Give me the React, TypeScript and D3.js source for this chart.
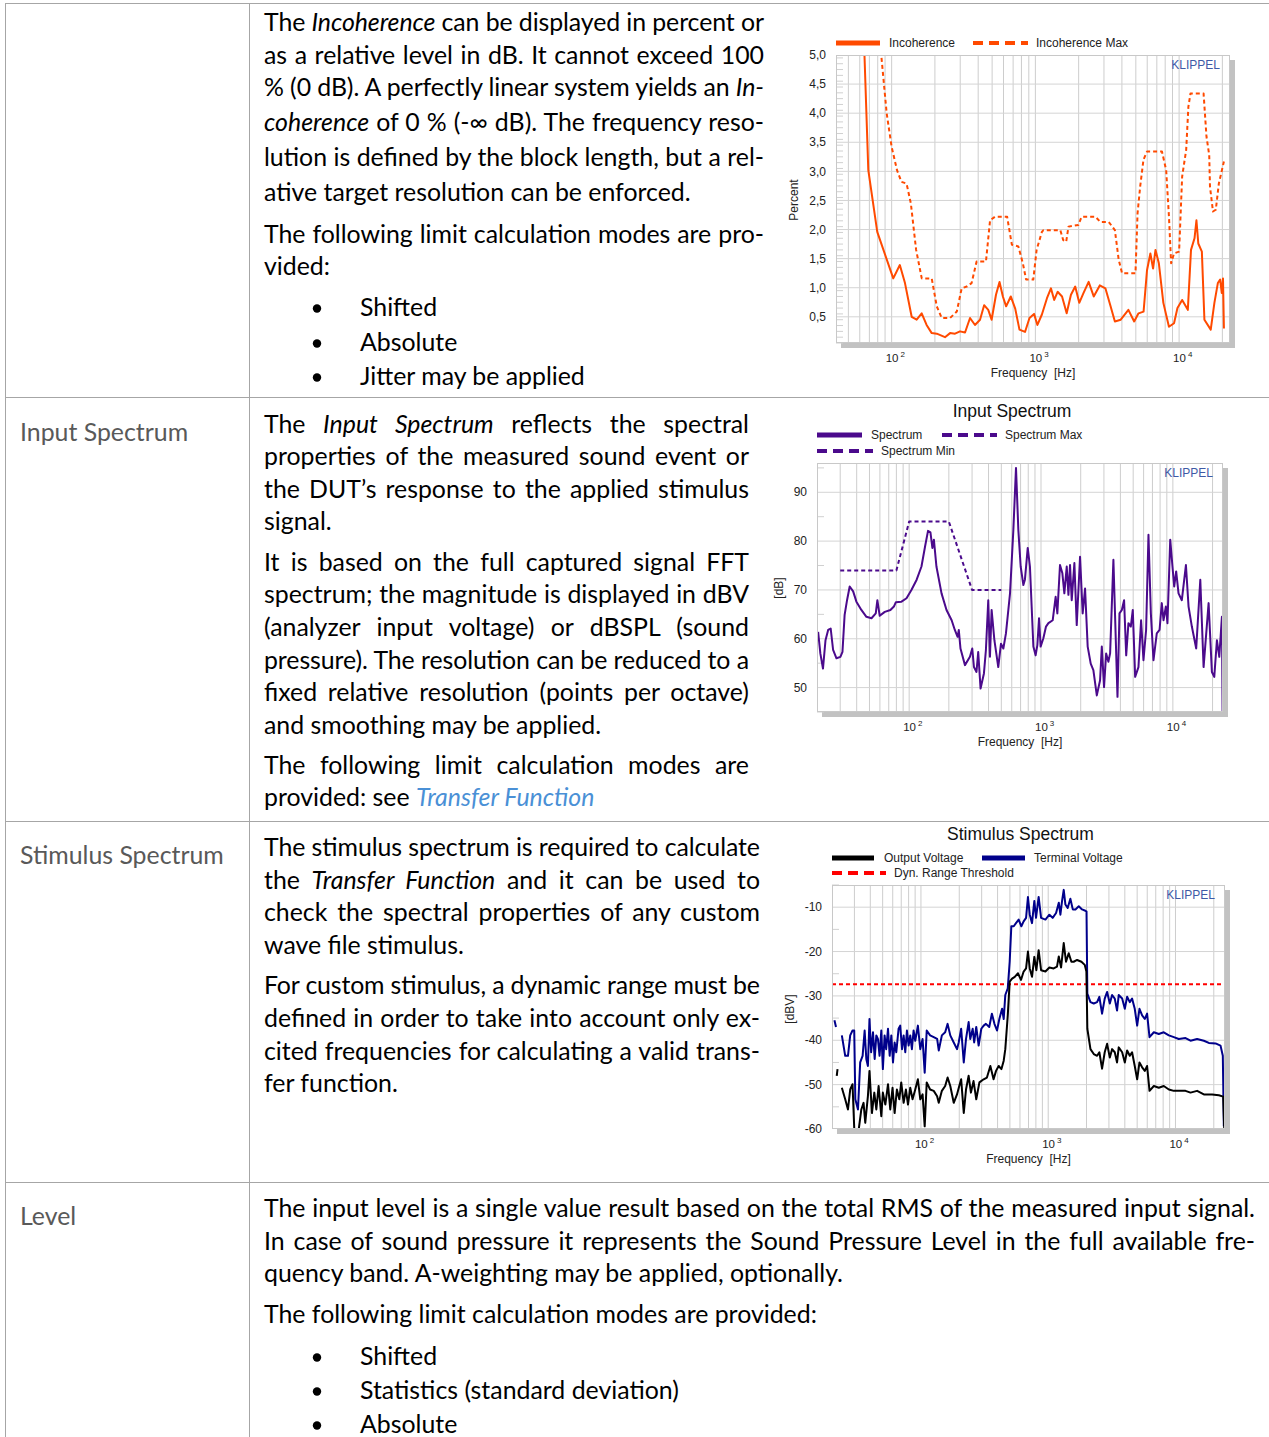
import React, { useEffect, useRef } from 'react';
import * as d3 from 'd3';

// ---- chart data (frequency in Hz, value) ----
const incoherence: [number, number][] = [
  [63.5, 5.6], [68.8, 3.02], [79.4, 1.96], [102.6, 1.16], [114, 1.39], [123.8, 1.08], [137.8, 0.5], [149.3, 0.45],
  [161.8, 0.56], [175, 0.36], [190, 0.22], [206, 0.21], [235, 0.15], [255, 0.22], [276, 0.21], [299, 0.25],
  [324, 0.23], [351, 0.48], [380, 0.36], [412, 0.45], [440, 0.7], [470, 0.62], [496, 0.45], [532, 0.88],
  [563, 1.1], [594, 0.85], [626, 0.68], [674, 0.85], [724, 0.64], [775, 0.28], [847, 0.24], [910, 0.48],
  [979, 0.55], [1033, 0.36], [1110, 0.54], [1204, 0.82], [1283, 0.99], [1352, 0.79], [1428, 0.93], [1533, 0.85],
  [1651, 0.56], [1768, 0.88], [1893, 1.02], [2020, 0.74], [2164, 0.91], [2347, 1.1], [2547, 0.85], [2806, 1.04],
  [3070, 0.99], [3336, 0.68], [3574, 0.42], [3925, 0.45], [4438, 0.62], [4868, 0.42], [5219, 0.56], [5660, 0.59],
  [5980, 1.3], [6310, 1.59], [6590, 1.33], [6850, 1.65], [7230, 1.42], [7770, 0.74], [8500, 0.33], [9220, 0.39],
  [9740, 0.65], [10500, 0.79], [11500, 0.62], [12100, 1.65], [12800, 1.85], [13200, 2.16], [13600, 1.76],
  [14400, 1.62], [15000, 0.45], [16600, 0.28], [17600, 0.74], [18600, 1.08], [19300, 1.14], [19800, 0.91],
  [20200, 1.16], [20500, 0.3],
];
const incoherenceMax: [number, number][] = [
  [85, 4.95], [92.3, 4.0], [100, 3.42], [109, 3.02], [117, 2.82], [127, 2.79], [136, 2.45], [148, 1.65],
  [162, 1.16], [190, 1.16], [206, 0.68], [223, 0.48], [255, 0.48], [284, 0.59], [307, 0.99], [333, 1.02],
  [360, 1.08], [390, 1.45], [453, 1.45], [484, 2.16], [524, 2.22], [636, 2.22], [686, 1.74], [761, 1.71],
  [818, 1.42], [862, 1.14], [967, 1.14], [1020, 1.65], [1110, 1.96], [1138, 1.99], [1491, 1.99], [1561, 1.82],
  [1638, 1.79], [1700, 2.05], [1992, 2.08], [2095, 2.22], [2620, 2.22], [2830, 2.13], [3240, 2.13], [3574, 1.99],
  [3800, 1.48], [4010, 1.25], [4970, 1.25], [5140, 2.28], [5360, 2.74], [5650, 3.2], [5980, 3.34], [7600, 3.34],
  [8130, 3.02], [8500, 2.22], [8800, 1.42], [9220, 1.59], [10000, 1.62], [10500, 2.91], [11200, 3.37],
  [11600, 4.11], [12000, 4.34], [14800, 4.34], [15500, 3.6], [16200, 3.28], [16400, 2.74], [17200, 2.31],
  [18000, 2.34], [18900, 2.79], [20500, 3.17],
];

const spectrum: [number, number][] = [
  [20.4, 61.4], [21.2, 57.0], [22.2, 53.9], [23.2, 59.7], [24.3, 61.8], [25.4, 62.1], [26.5, 57.7], [28.1, 56.0],
  [30.1, 56.3], [31.2, 57.3], [32.4, 64.9], [33.8, 67.9], [35.4, 70.7], [37.6, 69.7], [39.8, 67.6], [43.4, 65.9],
  [47.4, 64.5], [51.8, 64.2], [55.8, 65.2], [57.4, 67.9], [59.8, 64.7], [65.3, 65.5], [72.1, 65.9], [76.6, 66.6],
  [79.3, 67.5], [87.5, 67.6], [95.5, 68.3], [104, 70.0], [114, 72.1], [124, 74.8], [132, 78.9], [139, 82.1],
  [145, 81.8], [150, 78.6], [154, 80.3], [161, 74.8], [176, 69.3], [192, 65.9], [210, 63.8], [222, 61.8],
  [233, 60.4], [238, 61.8], [245, 58.0], [265, 54.6], [289, 56.3], [301, 58.0], [310, 54.2], [324, 53.2],
  [334, 57.3], [348, 49.8], [369, 52.9], [382, 57.7], [398, 67.9], [410, 56.3], [422, 65.9], [443, 59.7],
  [474, 54.2], [497, 59.0], [518, 58.0], [542, 61.1], [582, 69.3], [617, 82.3], [646, 95.0], [673, 82.3],
  [701, 74.8], [735, 71.0], [755, 72.1], [793, 78.6], [824, 74.8], [875, 58.4], [910, 56.6], [938, 58.7],
  [966, 64.2], [993, 58.4], [1042, 60.1], [1091, 62.5], [1138, 63.2], [1227, 63.8], [1291, 68.6], [1330, 65.2],
  [1393, 75.1], [1452, 73.4], [1503, 69.3], [1567, 74.8], [1614, 69.0], [1660, 75.1], [1710, 67.9], [1791, 75.5],
  [1866, 62.8], [1977, 76.8], [2070, 65.2], [2158, 70.3], [2259, 58.4], [2382, 54.9], [2495, 53.6], [2649, 48.4],
  [2805, 51.5], [2891, 58.4], [3006, 50.1], [3119, 57.0], [3243, 55.3], [3342, 57.0], [3540, 76.2], [3802, 48.1],
  [3936, 65.2], [4102, 65.9], [4266, 67.9], [4426, 56.6], [4603, 63.2], [4797, 62.5], [4966, 65.9], [5176, 52.2],
  [5483, 54.2], [5741, 63.8], [5984, 55.6], [6266, 61.8], [6531, 81.3], [6808, 65.2], [7129, 55.6], [7551, 61.1],
  [7925, 61.8], [8241, 67.3], [8492, 63.8], [8851, 66.6], [9099, 63.2], [9550, 80.3], [9931, 74.8], [10233, 70.7],
  [10593, 73.8], [11041, 69.3], [11695, 67.9], [12560, 75.1], [13152, 66.6], [13932, 62.5], [15031, 58.0],
  [16144, 72.1], [17100, 54.2], [18664, 67.3], [19770, 53.2], [20606, 52.2], [21577, 59.7], [22491, 56.3],
  [23550, 64.5], [23823, 45.0],
];
const spectrumMax: [number, number][] = [[30, 74], [80, 74], [100, 84], [200, 84], [300, 70], [500, 70]];

const terminalVoltageStub: [number, number][] = [[20.9, -35.5], [21.5, -37.0]];
const terminalVoltage: [number, number][] = [
  [23.9, -38.9], [25.4, -43.5], [26.7, -43.5], [27.8, -38.9], [29.0, -37.8], [29.9, -37.8], [30.5, -53.3],
  [32.0, -55.6], [33.3, -45.0], [34.8, -43.5], [36.1, -37.8], [37.2, -44.2], [38.3, -45.8], [39.4, -35.2],
  [40.6, -42.7], [42.0, -38.2], [43.3, -44.2], [44.6, -38.9], [45.9, -39.7], [47.3, -43.5], [48.8, -37.8],
  [50.2, -46.5], [51.8, -38.9], [53.3, -42.0], [55.1, -37.4], [56.8, -43.5], [58.5, -38.9], [60.3, -45.0],
  [62.1, -40.5], [64.0, -42.7], [66.7, -37.4], [68.7, -36.7], [71.0, -42.0], [73.1, -38.9], [75.3, -42.7],
  [77.6, -37.8], [80.0, -41.2], [82.4, -38.9], [84.9, -42.0], [87.5, -37.8], [90.2, -40.1], [94.6, -36.7],
  [98.8, -42.0], [103, -39.7], [107, -47.3], [111, -37.8], [118, -38.9], [126, -39.3], [134, -39.7], [138, -42.3],
  [146, -38.9], [155, -38.2], [162, -36.3], [170, -38.9], [181, -40.5], [192, -42.0], [198, -40.5], [207, -37.4],
  [217, -45.0], [226, -39.7], [237, -35.9], [244, -39.7], [255, -37.4], [262, -40.5], [272, -37.0], [284, -41.2],
  [298, -37.4], [311, -36.7], [324, -36.3], [344, -37.0], [361, -34.0], [378, -36.3], [396, -37.8], [413, -35.2],
  [434, -32.9], [447, -35.2], [460, -29.8], [481, -28.3], [498, -22.3], [513, -14.3], [536, -14.3], [558, -13.6],
  [586, -12.8], [615, -14.3], [641, -13.2], [670, -12.4], [693, -7.7], [716, -11.7], [746, -13.6], [778, -8.6],
  [802, -12.4], [841, -7.7], [879, -12.4], [951, -12.8], [1021, -11.7], [1084, -12.4], [1153, -11.3],
  [1211, -9.0], [1247, -11.7], [1285, -8.6], [1324, -6.1], [1365, -9.4], [1422, -10.2], [1493, -8.1],
  [1560, -10.5], [1637, -10.5], [1738, -9.8], [1845, -10.5], [1959, -10.8], [2000, -11.0], [2030, -29.5],
  [2148, -31.4], [2280, -31.7], [2421, -31.4], [2523, -30.2], [2649, -34.0], [2780, -30.6], [2904, -29.1],
  [3048, -31.7], [3177, -29.8], [3334, -30.6], [3475, -33.3], [3581, -29.8], [3811, -30.6], [3999, -32.9],
  [4169, -30.2], [4375, -31.4], [4560, -30.6], [4786, -32.9], [5000, -36.7], [5212, -32.9], [5470, -34.4],
  [5741, -35.2], [5984, -34.0], [6252, -39.3], [6761, -38.2], [7396, -38.6], [8091, -38.2], [8872, -38.9],
  [9705, -39.3], [10617, -39.7], [11995, -39.5], [13122, -40.1], [14791, -39.7], [16711, -40.1], [18281, -40.6],
  [20654, -40.7], [22594, -41.2], [23550, -43.5], [23988, -59.4],
];
const outputVoltageStub: [number, number][] = [[21.8, -48.0], [22.1, -46.5]];
const outputVoltage: [number, number][] = [
  [23.9, -50.7], [25.4, -53.3], [26.7, -55.6], [27.8, -51.1], [29.0, -49.9], [29.9, -59.8], [30.5, -62],
  [32.4, -60.2], [34.0, -55.6], [35.4, -54.1], [36.5, -58.6], [38.3, -52.6], [39.4, -46.9], [41.2, -56.4],
  [43.0, -51.8], [44.6, -55.6], [46.5, -50.3], [48.8, -57.1], [50.2, -51.8], [52.5, -54.5], [55.1, -49.9],
  [57.4, -55.6], [59.8, -50.7], [62.1, -56.4], [64.7, -51.1], [67.6, -53.3], [70.0, -49.5], [73.1, -54.1],
  [76.2, -51.1], [79.1, -54.5], [82.4, -50.7], [85.9, -53.3], [90.2, -51.1], [94.6, -48.8], [98.8, -53.3],
  [103, -52.2], [107, -59.4], [111, -49.5], [118, -51.1], [126, -51.4], [134, -52.6], [138, -54.1], [146, -51.4],
  [155, -50.3], [162, -48.4], [170, -50.3], [181, -54.1], [192, -52.2], [200, -50.3], [207, -48.8], [217, -56.4],
  [226, -51.1], [237, -48.0], [247, -51.8], [259, -49.2], [272, -53.3], [288, -49.5], [311, -48.8], [330, -48.4],
  [351, -45.8], [372, -48.8], [389, -46.9], [408, -45.8], [429, -46.5], [447, -44.6], [460, -42.0], [481, -34.4],
  [498, -26.8], [520, -26.1], [546, -25.7], [579, -24.9], [611, -26.4], [641, -24.5], [670, -23.8], [693, -20.0],
  [716, -23.8], [746, -25.7], [778, -21.2], [807, -24.2], [841, -19.7], [879, -24.2], [951, -24.5], [1021, -23.6],
  [1104, -23.8], [1172, -23.4], [1211, -21.1], [1262, -23.6], [1324, -18.1], [1380, -22.3], [1449, -20.4],
  [1521, -22.3], [1585, -22.3], [1687, -21.9], [1824, -22.3], [1936, -23.0], [1995, -24.5], [2030, -37.4],
  [2148, -42.0], [2280, -43.1], [2421, -43.5], [2523, -42.7], [2649, -46.4], [2780, -42.7], [2904, -40.8],
  [3048, -43.9], [3177, -42.0], [3334, -42.7], [3475, -45.0], [3581, -41.6], [3811, -42.7], [3999, -45.0],
  [4169, -42.3], [4375, -43.5], [4560, -42.7], [4786, -45.8], [5000, -48.8], [5212, -45.0], [5470, -46.1],
  [5741, -46.9], [5984, -45.8], [6252, -51.4], [6761, -50.3], [7396, -50.7], [8091, -50.3], [8872, -51.1],
  [9705, -51.4], [10617, -51.4], [11995, -51.4], [13122, -51.8], [14791, -51.4], [16711, -52.2], [19409, -52.2],
  [21928, -52.4], [23714, -52.7], [24155, -59.8],
];
const dynRangeThreshold = -27.4;

const incoherenceTicks = [0.5, 1, 1.5, 2, 2.5, 3, 3.5, 4, 4.5, 5];
const spectrumTicks = [50, 60, 70, 80, 90];
const stimulusTicks = [-60, -50, -40, -30, -20, -10];
const decadeTicks = [100, 1000, 10000];
const decadeExponents = ['2', '3', '4'];

// ---- document text ----
const incoherenceText = [
  'The *Incoherence* can be displayed in percent or|',
  'as a relative level in dB. It cannot exceed 100|',
  '% (0 dB). A perfectly linear system yields an *In-*|',
  '*coherence* of 0 % (-∞ dB). The frequency reso-|',
  'lution is defined by the block length, but a rel-|',
  'ative target resolution can be enforced.',
  'The following limit calculation modes are pro-|',
  'vided:',
];
const incoherenceBullets = ['Shifted', 'Absolute', 'Jitter may be applied'];
const inputText = [
  'The *Input Spectrum* reflects the spectral|',
  'properties of the measured sound event or|',
  'the DUT’s response to the applied stimulus|',
  'signal.',
  'It is based on the full captured signal FFT|',
  'spectrum; the magnitude is displayed in dBV|',
  '(analyzer input voltage) or dBSPL (sound|',
  'pressure). The resolution can be reduced to a|',
  'fixed relative resolution (points per octave)|',
  'and smoothing may be applied.',
  'The following limit calculation modes are|',
  'provided: see ~Transfer Function~',
];
const stimulusText = [
  'The stimulus spectrum is required to calculate|',
  'the *Transfer Function* and it can be used to|',
  'check the spectral properties of any custom|',
  'wave file stimulus.',
  'For custom stimulus, a dynamic range must be|',
  'defined in order to take into account only ex-|',
  'cited frequencies for calculating a valid trans-|',
  'fer function.',
];
const levelText = [
  'The input level is a single value result based on the total RMS of the measured input signal.|',
  'In case of sound pressure it represents the Sound Pressure Level in the full available fre-|',
  'quency band. A-weighting may be applied, optionally.',
  'The following limit calculation modes are provided:',
];
const levelBullets = ['Shifted', 'Statistics (standard deviation)', 'Absolute'];
const rowLabels = ['Input Spectrum', 'Stimulus Spectrum', 'Level'];

const BODY = "Lato, 'Noto Sans', sans-serif";
const CHART = "'Liberation Sans', Arial, sans-serif";

type Sel = d3.Selection<any, unknown, null, undefined>;

const parseSegs = (s: string) =>
  s.split(/(\*[^*]+\*|~[^~]+~)/g).filter(p => p).map(p => {
    if (p.startsWith('*')) return { t: p.slice(1, -1), i: true, link: false };
    if (p.startsWith('~')) return { t: p.slice(1, -1), i: true, link: true };
    return { t: p, i: false, link: false };
  });

function writeLine(g: Sel, raw: string, x: number, y: number, right: number, size: number, color = '#000') {
  const justify = raw.endsWith('|');
  const str = justify ? raw.slice(0, -1) : raw;
  const t = g.append('text').attr('x', x).attr('y', y).attr('font-family', BODY)
    .attr('font-size', size).attr('fill', color).style('white-space', 'pre');
  parseSegs(str).forEach(s => {
    t.append('tspan').text(s.t)
      .attr('font-style', s.i ? 'italic' : null)
      .attr('fill', s.link ? '#4a90d6' : null);
  });
  if (justify) {
    const node = t.node() as SVGTextElement;
    const target = right - x;
    const w = node.getComputedTextLength();
    const spaces = (str.match(/ /g) || []).length;
    if (spaces > 0 && w < target) {
      t.attr('word-spacing', (target - w) / spaces);
      if (Math.abs(node.getComputedTextLength() - target) > 1.5) {
        t.attr('word-spacing', null).attr('textLength', target).attr('lengthAdjust', 'spacing');
      }
    } else if (w > target) {
      t.attr('textLength', target).attr('lengthAdjust', 'spacing');
    }
  }
}

function writeBullets(g: Sel, items: string[], ys: number[], size: number) {
  items.forEach((item, i) => {
    g.append('circle').attr('cx', 317).attr('cy', ys[i] - 7.5).attr('r', 4.2).attr('fill', '#000');
    g.append('text').attr('x', 360).attr('y', ys[i]).attr('font-family', BODY)
      .attr('font-size', size).text(item);
  });
}

interface Series { data: [number, number][]; color: string; width: number; dash?: string }
interface LegendItem { label: string; color: string; dash?: string; x1: number; x2: number; tx: number; y: number }
interface ChartCfg {
  id: string;
  frame: [number, number, number, number];
  xDomain: [number, number];
  yDomain: [number, number];
  yTicks: number[];
  yFormat: (v: number) => string;
  minorStep: number;
  yTitle: string;
  yTitlePos: [number, number];
  title?: string;
  titleY?: number;
  legend: LegendItem[];
  series: Series[];
  hline?: { value: number; color: string };
}

function drawChart(svg: Sel, cfg: ChartCfg) {
  const [left, top, right, bottom] = cfg.frame;
  const g = svg.append('g').attr('font-family', CHART);
  const x = d3.scaleLog().domain(cfg.xDomain).range([left, right]);
  const y = d3.scaleLinear().domain(cfg.yDomain).range([bottom, top]);

  if (cfg.title) {
    g.append('text').attr('x', (left + right) / 2 - 8).attr('y', cfg.titleY!).attr('text-anchor', 'middle')
      .attr('font-size', 17.5).attr('fill', '#111').text(cfg.title);
  }

  // legend
  cfg.legend.forEach(l => {
    g.append('line').attr('x1', l.x1).attr('x2', l.x2).attr('y1', l.y).attr('y2', l.y)
      .attr('stroke', l.color).attr('stroke-width', l.dash ? 4 : 5).attr('stroke-dasharray', l.dash ? '10,6' : null);
    g.append('text').attr('x', l.tx).attr('y', l.y + 4).attr('font-size', 12).attr('fill', '#222').text(l.label);
  });

  // drop shadow + background
  g.append('rect').attr('x', left + 5).attr('y', top + 5).attr('width', right - left).attr('height', bottom - top)
    .attr('fill', '#c2c2c2');
  g.append('rect').attr('x', left).attr('y', top).attr('width', right - left).attr('height', bottom - top)
    .attr('fill', '#fff');

  // vertical grid: 1..9 per decade
  const gridFreqs: number[] = [];
  for (let d = 10; d <= 10000; d *= 10) {
    for (let m = 1; m <= 9; m++) {
      const f = m * d;
      if (f > cfg.xDomain[0] * 1.02 && f < cfg.xDomain[1] * 0.98) gridFreqs.push(f);
    }
  }
  g.append('g').selectAll('line').data(gridFreqs).join('line')
    .attr('x1', d => x(d)).attr('x2', d => x(d)).attr('y1', top).attr('y2', bottom)
    .attr('stroke', '#cdcdcd').attr('stroke-width', 1);

  // horizontal grid
  g.append('g').selectAll('line').data(cfg.yTicks.filter(v => y(v) > top + 1 && y(v) < bottom - 1)).join('line')
    .attr('x1', left).attr('x2', right).attr('y1', d => y(d)).attr('y2', d => y(d))
    .attr('stroke', '#d4d4d4').attr('stroke-width', 1);

  // minor ticks on the left edge
  const minors = d3.range(cfg.yDomain[0], cfg.yDomain[1] + 1e-6, cfg.minorStep)
    .map(v => Math.round(v * 100) / 100)
    .filter(v => !cfg.yTicks.some(t => Math.abs(t - v) < 1e-6));
  g.append('g').selectAll('line').data(minors).join('line')
    .attr('x1', left).attr('x2', left + 7).attr('y1', d => y(d)).attr('y2', d => y(d))
    .attr('stroke', '#d0d0d0').attr('stroke-width', 1);

  // plot series
  const clipId = `clip-${cfg.id}`;
  g.append('clipPath').attr('id', clipId).append('rect')
    .attr('x', left).attr('y', top).attr('width', right - left).attr('height', bottom - top);
  const plot = g.append('g').attr('clip-path', `url(#${clipId})`);
  const line = d3.line<[number, number]>().x(d => x(d[0])).y(d => y(d[1]));
  if (cfg.hline) {
    plot.append('line').attr('x1', left).attr('x2', right)
      .attr('y1', y(cfg.hline.value)).attr('y2', y(cfg.hline.value))
      .attr('stroke', cfg.hline.color).attr('stroke-width', 2).attr('stroke-dasharray', '4,3');
  }
  cfg.series.forEach(s => {
    plot.append('path').datum(s.data).attr('d', line).attr('fill', 'none')
      .attr('stroke', s.color).attr('stroke-width', s.width)
      .attr('stroke-dasharray', s.dash || null).attr('stroke-linejoin', 'round');
  });

  // frame
  g.append('rect').attr('x', left + 0.5).attr('y', top + 0.5).attr('width', right - left - 1)
    .attr('height', bottom - top - 1).attr('fill', 'none').attr('stroke', '#c8c8c8');

  g.append('text').attr('x', right - 10).attr('y', top + 14).attr('text-anchor', 'end')
    .attr('font-size', 12).attr('fill', '#3e5aa6').text('KLIPPEL');

  // y tick labels
  g.append('g').selectAll('text').data(cfg.yTicks).join('text')
    .attr('x', left - 10).attr('y', d => y(d)).attr('dy', '0.35em').attr('text-anchor', 'end')
    .attr('font-size', 12).attr('fill', '#222').text(d => cfg.yFormat(d));
  g.append('text').attr('transform', `translate(${cfg.yTitlePos[0]},${cfg.yTitlePos[1]}) rotate(-90)`)
    .attr('text-anchor', 'middle').attr('dy', '0.35em').attr('font-size', 12).attr('fill', '#222').text(cfg.yTitle);

  // x tick labels 10^n
  decadeTicks.forEach((f, i) => {
    const t = g.append('text').attr('x', x(f) - 6).attr('y', bottom + 19).attr('font-size', 11.5).attr('fill', '#222');
    t.append('tspan').text('10');
    t.append('tspan').attr('dx', 2).attr('dy', -5).attr('font-size', 8).text(decadeExponents[i]);
  });
  g.append('text').attr('x', (left + right) / 2).attr('y', bottom + 34).attr('text-anchor', 'middle')
    .attr('font-size', 12).attr('fill', '#222').style('white-space', 'pre').text('Frequency  [Hz]');
}

const App = () => {
  const svgRef = useRef<SVGSVGElement>(null);

  useEffect(() => {
    document.body.style.margin = '0';
    const svg = d3.select(svgRef.current) as unknown as Sel;
    svg.selectAll('*').remove();

    // calibrate body font size to the reference line width
    const probe = svg.append('text').attr('font-family', BODY).attr('font-size', 22)
      .style('white-space', 'pre').text('The following limit calculation modes are provided:');
    const pw = (probe.node() as SVGTextElement).getComputedTextLength();
    probe.remove();
    const size = Math.max(19, Math.min(25, pw > 0 ? 22 * 553 / pw : 22));

    // table rules
    const grid = svg.append('g').attr('stroke', '#a6a6a6').attr('stroke-width', 1);
    [3.5, 397.5, 821.5, 1182.5].forEach(yy => grid.append('line').attr('x1', 5).attr('x2', 1269).attr('y1', yy).attr('y2', yy));
    [5.5, 249.5].forEach(xx => grid.append('line').attr('x1', xx).attr('x2', xx).attr('y1', 3).attr('y2', 1437));

    const body = svg.append('g');
    [441, 864, 1225].forEach((yy, i) => {
      body.append('text').attr('x', 20).attr('y', yy).attr('font-family', BODY).attr('font-size', size)
        .attr('fill', '#595959').text(rowLabels[i]);
    });

    const row1Y = [31, 64, 96, 131, 166, 201, 243, 275];
    incoherenceText.forEach((l, i) => writeLine(body, l, 264, row1Y[i], 764, size));
    writeBullets(body, incoherenceBullets, [316, 351, 385], size);

    const row2Y = [433, 465, 498, 530, 571, 603, 636, 669, 701, 734, 774, 806];
    inputText.forEach((l, i) => writeLine(body, l, 264, row2Y[i], 749, size));

    const row3Y = [856, 889, 921, 954, 994, 1027, 1060, 1092];
    stimulusText.forEach((l, i) => writeLine(body, l, 264, row3Y[i], 760, size));

    const row4Y = [1217, 1250, 1282, 1323];
    levelText.forEach((l, i) => writeLine(body, l, 264, row4Y[i], 1255, size));
    writeBullets(body, levelBullets, [1365, 1399, 1433], size);

    const orange = '#ff4a00';
    drawChart(svg, {
      id: 'incoherence',
      frame: [836, 55, 1230, 343],
      xDomain: [41, 22600],
      yDomain: [0.05, 5],
      yTicks: incoherenceTicks,
      yFormat: v => v.toFixed(1).replace('.', ','),
      minorStep: 0.1,
      yTitle: 'Percent',
      yTitlePos: [794, 200],
      legend: [
        { label: 'Incoherence', color: orange, x1: 836, x2: 880, tx: 889, y: 43 },
        { label: 'Incoherence Max', color: orange, dash: 'd', x1: 973, x2: 1028, tx: 1036, y: 43 },
      ],
      series: [
        { data: incoherenceMax, color: orange, width: 2, dash: '4,3' },
        { data: incoherence, color: orange, width: 2 },
      ],
    });

    const purple = '#4b0a8c';
    drawChart(svg, {
      id: 'input',
      frame: [817, 463, 1223, 712],
      xDomain: [20, 24000],
      yDomain: [45, 96],
      yTicks: spectrumTicks,
      yFormat: v => String(v),
      minorStep: 5,
      yTitle: '[dB]',
      yTitlePos: [779, 588],
      title: 'Input Spectrum',
      titleY: 417,
      legend: [
        { label: 'Spectrum', color: purple, x1: 817, x2: 862, tx: 871, y: 435 },
        { label: 'Spectrum Max', color: purple, dash: 'd', x1: 942, x2: 997, tx: 1005, y: 435 },
        { label: 'Spectrum Min', color: purple, dash: 'd', x1: 817, x2: 873, tx: 881, y: 451 },
      ],
      series: [
        { data: spectrumMax, color: purple, width: 2, dash: '4,3' },
        { data: spectrum, color: purple, width: 2 },
      ],
    });

    const navy = '#00008b';
    drawChart(svg, {
      id: 'stimulus',
      frame: [832, 885, 1225, 1129],
      xDomain: [20, 24500],
      yDomain: [-60, -5],
      yTicks: stimulusTicks,
      yFormat: v => String(v),
      minorStep: 5,
      yTitle: '[dBV]',
      yTitlePos: [790, 1009],
      title: 'Stimulus Spectrum',
      titleY: 840,
      legend: [
        { label: 'Output Voltage', color: '#000', x1: 832, x2: 874, tx: 884, y: 858 },
        { label: 'Terminal Voltage', color: navy, x1: 982, x2: 1025, tx: 1034, y: 858 },
        { label: 'Dyn. Range Threshold', color: '#ff0000', dash: 'd', x1: 832, x2: 886, tx: 894, y: 873 },
      ],
      hline: { value: dynRangeThreshold, color: '#ff0000' },
      series: [
        { data: terminalVoltageStub, color: navy, width: 2 },
        { data: terminalVoltage, color: navy, width: 2 },
        { data: outputVoltageStub, color: '#000', width: 2 },
        { data: outputVoltage, color: '#000', width: 2 },
      ],
    });
  }, []);

  return <svg ref={svgRef} width={1269} height={1437} style={{ display: 'block' }} />;
};

export default App;
